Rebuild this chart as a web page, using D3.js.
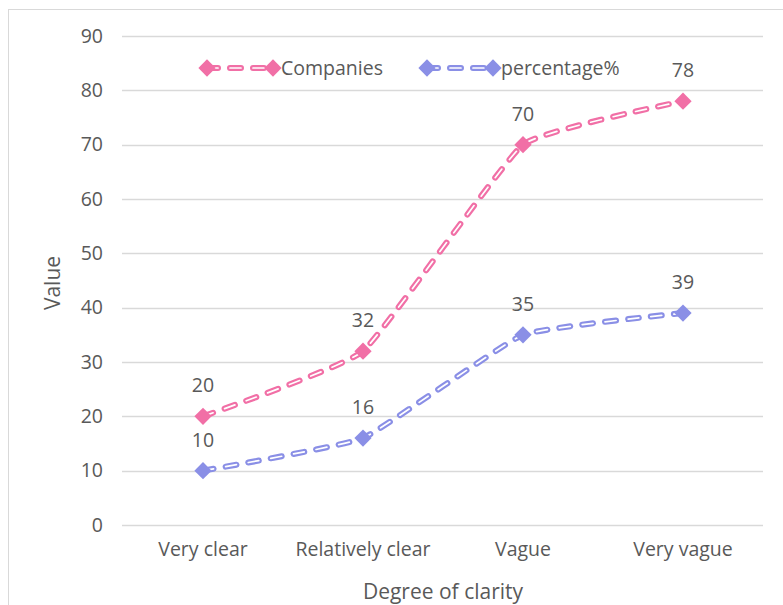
<!DOCTYPE html>
<html>
<head>
<meta charset="utf-8">
<script src="https://cdn.jsdelivr.net/npm/d3@7"></script>
<style>
  body { margin: 0; background: #fff; }
  svg text { font-family: "Open Sans", sans-serif; fill: #595959; }
</style>
</head>
<body>
<svg id="chart" width="783" height="605"></svg>
<script>
const categories = ["Very clear", "Relatively clear", "Vague", "Very vague"];
const companies = [20, 32, 70, 78];
const percentage = [10, 16, 35, 39];
const yTicks = [0, 10, 20, 30, 40, 50, 60, 70, 80, 90];

const series = [
  { name: "Companies", values: companies, color: "#f16fa6", legendX: 207 },
  { name: "percentage%", values: percentage, color: "#8a8fe6", legendX: 427 }
];

const svg = d3.select("#chart");

// outer chart frame
svg.append("rect")
  .attr("x", 8.5).attr("y", 9.5)
  .attr("width", 790).attr("height", 610)
  .attr("fill", "none").attr("stroke", "#d9d9d9");

const x = d3.scaleBand().domain(categories).range([123, 763]);
const y = d3.scaleLinear().domain([0, 90]).range([525, 36]);

// gridlines
svg.append("g")
  .selectAll("line")
  .data(yTicks)
  .enter()
  .append("line")
  .attr("x1", 122).attr("x2", 763)
  .attr("y1", d => Math.round(y(d)) + 0.5)
  .attr("y2", d => Math.round(y(d)) + 0.5)
  .attr("stroke", "#d9d9d9")
  .attr("stroke-width", 1.5);

// y axis labels
const yAxis = d3.axisLeft(y).tickValues(yTicks).tickSize(0).tickPadding(0);
const gy = svg.append("g").attr("transform", "translate(103,0)").call(yAxis);
gy.select(".domain").remove();
gy.selectAll("text").style("font-size", "19.5px").style("font-family", "'Open Sans', sans-serif").attr("fill", "#595959");

// x axis labels
const xAxis = d3.axisBottom(x).tickSize(0).tickPadding(0);
const gx = svg.append("g").attr("transform", "translate(0,542)").call(xAxis);
gx.select(".domain").remove();
gx.selectAll("text").style("font-size", "19.5px").style("font-family", "'Open Sans', sans-serif").attr("fill", "#595959");

// axis titles
svg.append("text")
  .attr("transform", "translate(60,283) rotate(-90)")
  .attr("text-anchor", "middle")
  .style("font-size", "21px")
  .text("Value");

svg.append("text")
  .attr("x", 443).attr("y", 599)
  .attr("text-anchor", "middle")
  .style("font-size", "21px")
  .text("Degree of clarity");

const cx = d => x(d) + x.bandwidth() / 2;
const line = d3.line()
  .x((d, i) => cx(categories[i]))
  .y(d => y(d))
  .curve(d3.curveCardinal.tension(0.65));

const diamond = d3.symbol().type(d3.symbolDiamond2).size(190);

function doubleLine(g, d, color) {
  g.append("path")
    .attr("d", d)
    .attr("fill", "none")
    .attr("stroke", color)
    .attr("stroke-width", 6)
    .attr("stroke-linecap", "round")
    .attr("stroke-dasharray", "11,12");
  g.append("path")
    .attr("d", d)
    .attr("fill", "none")
    .attr("stroke", "#fff")
    .attr("stroke-width", 1.7)
    .attr("stroke-linecap", "round")
    .attr("stroke-dasharray", "11,12");
}

series.forEach(s => {
  const g = svg.append("g");
  doubleLine(g, line(s.values), s.color);

  g.selectAll("path.marker")
    .data(s.values)
    .enter()
    .append("path")
    .attr("class", "marker")
    .attr("d", diamond)
    .attr("transform", (d, i) => `translate(${cx(categories[i])},${y(d)})`)
    .attr("fill", s.color);

  g.selectAll("text.label")
    .data(s.values)
    .enter()
    .append("text")
    .attr("class", "label")
    .attr("x", (d, i) => cx(categories[i]))
    .attr("y", d => y(d) - 24)
    .attr("text-anchor", "middle")
    .style("font-size", "19.5px")
    .text(d => d);

  // legend
  const lg = svg.append("g");
  const ly = 68;
  doubleLine(lg, `M${s.legendX},${ly}L${s.legendX + 66},${ly}`, s.color);
  lg.selectAll("path.lm")
    .data([s.legendX, s.legendX + 66])
    .enter()
    .append("path")
    .attr("class", "lm")
    .attr("d", diamond)
    .attr("transform", d => `translate(${d},${ly})`)
    .attr("fill", s.color);
  lg.append("text")
    .attr("x", s.legendX + 74)
    .attr("y", ly + 7)
    .style("font-size", "19.5px")
    .text(s.name);
});
</script>
</body>
</html>
